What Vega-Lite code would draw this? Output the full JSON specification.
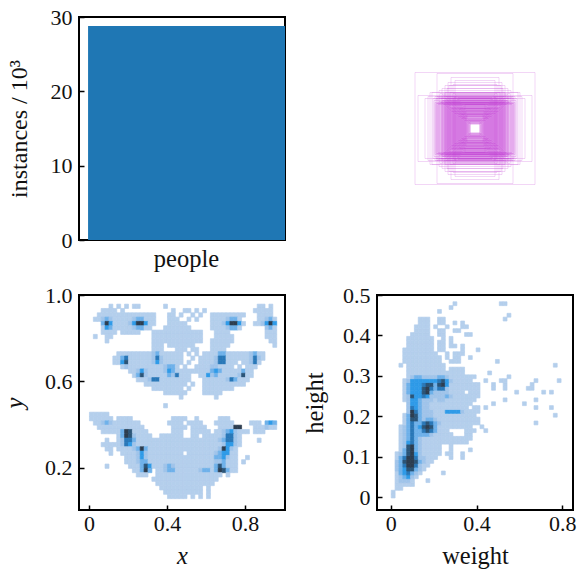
{"$schema":"https://vega.github.io/schema/vega-lite/v6.json","padding":{"left":1,"top":5,"right":0,"bottom":0},"bounds":"flush","columns":2,"spacing":{"column":92,"row":55},
"config":{"view":{"stroke":"#000","strokeWidth":2},"font":"Liberation Serif","axis":{"domain":false,"grid":false,"tickSize":-5,"tickWidth":1.5,"tickColor":"#000","labelFont":"Liberation Serif","titleFont":"Liberation Serif","labelFontSize":22,"titleFontSize":24.5,"labelColor":"#111","titleColor":"#111","titleFontWeight":"normal","labelPadding":12,"labelAngle":0}},
"concat":[
{"width":206,"height":223,"data":{"values":[{"name":"people","n":28.8}]},"mark":{"type":"bar","color":"#1f77b4","clip":true},
"encoding":{"x":{"field":"name","type":"nominal","title":null,"scale":{"paddingInner":0,"paddingOuter":0.023,"align":1},"axis":{"labelFontSize":24.5}},"y":{"field":"n","type":"quantitative","title":"instances / 10³","scale":{"domain":[0,30]},"axis":{"values":[0,10,20,30],"titlePadding":19,"titleFontSize":24}}}},
{"width":196,"height":223,"view":{"stroke":null},"data":{"values":[
{"x":-5,"x2":5,"y":-4,"y2":4},{"x":-5,"x2":5,"y":-5,"y2":5},{"x":-5,"x2":5,"y":-7,"y2":7},{"x":-6,"x2":6,"y":-5,"y2":5},{"x":-6,"x2":6,"y":-6,"y2":6},{"x":-6,"x2":6,"y":-8,"y2":8},{"x":-7,"x2":7,"y":-5,"y2":5},{"x":-7,"x2":7,"y":-7,"y2":7},{"x":-7,"x2":7,"y":-6,"y2":6},{"x":-7,"x2":7,"y":-9,"y2":9},
{"x":-8,"x2":8,"y":-6,"y2":6},{"x":-8,"x2":8,"y":-8,"y2":8},{"x":-8,"x2":8,"y":-7,"y2":7},{"x":-8,"x2":8,"y":-14,"y2":14},{"x":-9,"x2":9,"y":-7,"y2":7},{"x":-9,"x2":9,"y":-9,"y2":9},{"x":-9,"x2":9,"y":-8,"y2":8},{"x":-9,"x2":9,"y":-12,"y2":12},{"x":-9,"x2":9,"y":-18,"y2":18},
{"x":-10,"x2":10,"y":-8,"y2":8},{"x":-10,"x2":10,"y":-10,"y2":10},{"x":-10,"x2":10,"y":-9,"y2":9},{"x":-10,"x2":10,"y":-13,"y2":13},{"x":-10,"x2":10,"y":-24,"y2":24},{"x":-11,"x2":11,"y":-8,"y2":8},{"x":-11,"x2":11,"y":-10,"y2":10},{"x":-11,"x2":11,"y":-12,"y2":12},{"x":-11,"x2":11,"y":-15,"y2":15},{"x":-11,"x2":11,"y":-20,"y2":20},
{"x":-12,"x2":12,"y":-9,"y2":9},{"x":-12,"x2":12,"y":-11,"y2":11},{"x":-12,"x2":12,"y":-13,"y2":13},{"x":-12,"x2":12,"y":-16,"y2":16},{"x":-12,"x2":12,"y":-22,"y2":22},{"x":-13,"x2":13,"y":-10,"y2":10},{"x":-13,"x2":13,"y":-11,"y2":11},{"x":-13,"x2":13,"y":-14,"y2":14},{"x":-13,"x2":13,"y":-17,"y2":17},{"x":-13,"x2":13,"y":-24,"y2":24},
{"x":-14,"x2":14,"y":-10,"y2":10},{"x":-14,"x2":14,"y":-12,"y2":12},{"x":-14,"x2":14,"y":-14,"y2":14},{"x":-14,"x2":14,"y":-18,"y2":18},{"x":-14,"x2":14,"y":-26,"y2":26},{"x":-15,"x2":15,"y":-11,"y2":11},{"x":-15,"x2":15,"y":-13,"y2":13},{"x":-15,"x2":15,"y":-15,"y2":15},{"x":-15,"x2":15,"y":-20,"y2":20},{"x":-15,"x2":15,"y":-28,"y2":28},
{"x":-16,"x2":16,"y":-12,"y2":12},{"x":-16,"x2":16,"y":-14,"y2":14},{"x":-16,"x2":16,"y":-16,"y2":16},{"x":-16,"x2":16,"y":-19,"y2":19},{"x":-16,"x2":16,"y":-30,"y2":30},{"x":-17,"x2":17,"y":-12,"y2":12},{"x":-17,"x2":17,"y":-14,"y2":14},{"x":-17,"x2":17,"y":-17,"y2":17},{"x":-17,"x2":17,"y":-20,"y2":20},{"x":-17,"x2":17,"y":-31,"y2":31},
{"x":-18,"x2":18,"y":-13,"y2":13},{"x":-18,"x2":18,"y":-15,"y2":15},{"x":-18,"x2":18,"y":-18,"y2":18},{"x":-18,"x2":18,"y":-21,"y2":21},{"x":-18,"x2":18,"y":-29,"y2":29},{"x":-19,"x2":19,"y":-14,"y2":14},{"x":-19,"x2":19,"y":-16,"y2":16},{"x":-19,"x2":19,"y":-19,"y2":19},{"x":-19,"x2":19,"y":-22,"y2":22},{"x":-19,"x2":19,"y":-33,"y2":33},
{"x":-20,"x2":20,"y":-15,"y2":15},{"x":-20,"x2":20,"y":-17,"y2":17},{"x":-20,"x2":20,"y":-20,"y2":20},{"x":-20,"x2":20,"y":-23,"y2":23},{"x":-20,"x2":20,"y":-34,"y2":34},{"x":-21,"x2":21,"y":-15,"y2":15},{"x":-21,"x2":21,"y":-18,"y2":18},{"x":-21,"x2":21,"y":-21,"y2":21},{"x":-21,"x2":21,"y":-24,"y2":24},{"x":-21,"x2":21,"y":-31,"y2":31},
{"x":-22,"x2":22,"y":-16,"y2":16},{"x":-22,"x2":22,"y":-19,"y2":19},{"x":-22,"x2":22,"y":-22,"y2":22},{"x":-22,"x2":22,"y":-25,"y2":25},{"x":-22,"x2":22,"y":-35,"y2":35},{"x":-23,"x2":23,"y":-17,"y2":17},{"x":-23,"x2":23,"y":-20,"y2":20},{"x":-23,"x2":23,"y":-23,"y2":23},{"x":-23,"x2":23,"y":-26,"y2":26},
{"x":-24,"x2":24,"y":-17,"y2":17},{"x":-24,"x2":24,"y":-20,"y2":20},{"x":-24,"x2":24,"y":-24,"y2":24},{"x":-24,"x2":24,"y":-27,"y2":27},{"x":-25,"x2":25,"y":-18,"y2":18},{"x":-25,"x2":25,"y":-21,"y2":21},{"x":-25,"x2":25,"y":-25,"y2":25},{"x":-25,"x2":25,"y":-28,"y2":28},{"x":-25,"x2":25,"y":-36,"y2":36},
{"x":-26,"x2":26,"y":-19,"y2":19},{"x":-26,"x2":26,"y":-23,"y2":23},{"x":-26,"x2":26,"y":-26,"y2":26},{"x":-26,"x2":26,"y":-29,"y2":29},{"x":-27,"x2":27,"y":-20,"y2":20},{"x":-27,"x2":27,"y":-24,"y2":24},{"x":-27,"x2":27,"y":-27,"y2":27},{"x":-27,"x2":27,"y":-30,"y2":30},{"x":-28,"x2":28,"y":-21,"y2":21},{"x":-28,"x2":28,"y":-25,"y2":25},{"x":-28,"x2":28,"y":-28,"y2":28},{"x":-28,"x2":28,"y":-31,"y2":31},
{"x":-29,"x2":29,"y":-22,"y2":22},{"x":-29,"x2":29,"y":-26,"y2":26},{"x":-29,"x2":29,"y":-29,"y2":29},{"x":-29,"x2":29,"y":-32,"y2":32},{"x":-30,"x2":30,"y":-23,"y2":23},{"x":-30,"x2":30,"y":-26,"y2":26},{"x":-30,"x2":30,"y":-30,"y2":30},{"x":-30,"x2":30,"y":-36,"y2":36},{"x":-31,"x2":31,"y":-24,"y2":24},{"x":-31,"x2":31,"y":-27,"y2":27},{"x":-31,"x2":31,"y":-32,"y2":32},
{"x":-32,"x2":32,"y":-24,"y2":24},{"x":-32,"x2":32,"y":-28,"y2":28},{"x":-32,"x2":32,"y":-33,"y2":33},{"x":-33,"x2":33,"y":-25,"y2":25},{"x":-33,"x2":33,"y":-28,"y2":28},{"x":-33,"x2":33,"y":-34,"y2":34},{"x":-34,"x2":34,"y":-26,"y2":26},{"x":-34,"x2":34,"y":-30,"y2":30},{"x":-35,"x2":35,"y":-26,"y2":26},{"x":-35,"x2":35,"y":-35,"y2":35},
{"x":-36,"x2":36,"y":-27,"y2":27},{"x":-36,"x2":36,"y":-30,"y2":30},{"x":-37,"x2":37,"y":-24,"y2":24},{"x":-37,"x2":37,"y":-31,"y2":31},{"x":-38,"x2":38,"y":-25,"y2":25},{"x":-38,"x2":38,"y":-32,"y2":32},{"x":-39,"x2":39,"y":-25,"y2":25},{"x":-39,"x2":39,"y":-30,"y2":30},{"x":-40,"x2":40,"y":-26,"y2":26},{"x":-40,"x2":40,"y":-32,"y2":32},{"x":-41,"x2":41,"y":-28,"y2":28},{"x":-42,"x2":42,"y":-30,"y2":30},{"x":-43,"x2":43,"y":-36,"y2":36},
{"x":-24,"x2":24,"y":-51,"y2":51},{"x":-27,"x2":27,"y":-46,"y2":46},{"x":-30,"x2":30,"y":-43,"y2":43},{"x":-33,"x2":33,"y":-40,"y2":40},{"x":-20,"x2":20,"y":-48,"y2":48},{"x":-38,"x2":38,"y":-55,"y2":55},{"x":-60,"x2":60,"y":-56,"y2":56},{"x":-57,"x2":57,"y":-33,"y2":33},{"x":-45,"x2":45,"y":-36,"y2":36},{"x":-47,"x2":47,"y":-32,"y2":32},{"x":-50,"x2":50,"y":-30,"y2":30},{"x":-28,"x2":28,"y":-40,"y2":40},{"x":-22,"x2":22,"y":-44,"y2":44},{"x":-26,"x2":26,"y":-43,"y2":43},{"x":-36,"x2":36,"y":-38,"y2":38}
]},"mark":{"type":"rect","fill":null,"stroke":"#c030d0","strokeOpacity":0.2,"strokeWidth":1},
"encoding":{"x":{"field":"x","type":"quantitative","axis":null,"scale":{"domain":[-98,98]}},"x2":{"field":"x2"},"y":{"field":"y","type":"quantitative","axis":null,"scale":{"domain":[-111.5,111.5]}},"y2":{"field":"y2"}}},
{"width":206,"height":215,"data":{"values":[
{"x":0.11,"y":0.95,"c":1},{"x":0.15,"y":0.95,"c":1},{"x":0.19,"y":0.95,"c":1},{"x":0.23,"y":0.95,"c":1},{"x":0.25,"y":0.95,"c":1},{"x":0.39,"y":0.95,"c":1},{"x":0.87,"y":0.95,"c":1},{"x":0.89,"y":0.95,"c":1},{"x":0.93,"y":0.95,"c":1},
{"x":0.07,"y":0.93,"c":1},{"x":0.09,"y":0.93,"c":1},{"x":0.11,"y":0.93,"c":1},{"x":0.13,"y":0.93,"c":1},{"x":0.17,"y":0.93,"c":1},{"x":0.43,"y":0.93,"c":1},{"x":0.49,"y":0.93,"c":1},{"x":0.51,"y":0.93,"c":1},{"x":0.55,"y":0.93,"c":1},{"x":0.59,"y":0.93,"c":1},{"x":0.85,"y":0.93,"c":1},{"x":0.87,"y":0.93,"c":1},{"x":0.89,"y":0.93,"c":1},{"x":0.91,"y":0.93,"c":1},{"x":0.93,"y":0.93,"c":1},
{"x":0.05,"y":0.91,"c":1},{"x":0.07,"y":0.91,"c":1},{"x":0.09,"y":0.91,"c":1},{"x":0.11,"y":0.91,"c":1},{"x":0.13,"y":0.91,"c":1},{"x":0.15,"y":0.91,"c":1},{"x":0.17,"y":0.91,"c":1},{"x":0.19,"y":0.91,"c":1},{"x":0.21,"y":0.91,"c":1},{"x":0.23,"y":0.91,"c":1},{"x":0.25,"y":0.91,"c":1},{"x":0.27,"y":0.91,"c":1},{"x":0.29,"y":0.91,"c":1},{"x":0.31,"y":0.91,"c":1},{"x":0.33,"y":0.91,"c":1},{"x":0.41,"y":0.91,"c":1},{"x":0.43,"y":0.91,"c":1},{"x":0.47,"y":0.91,"c":1},{"x":0.53,"y":0.91,"c":1},{"x":0.57,"y":0.91,"c":1},{"x":0.63,"y":0.91,"c":1},{"x":0.65,"y":0.91,"c":1},{"x":0.67,"y":0.91,"c":1},{"x":0.69,"y":0.91,"c":1},{"x":0.71,"y":0.91,"c":1},{"x":0.73,"y":0.91,"c":1},{"x":0.75,"y":0.91,"c":1},{"x":0.77,"y":0.91,"c":1},{"x":0.79,"y":0.91,"c":1},{"x":0.87,"y":0.91,"c":1},{"x":0.89,"y":0.91,"c":1},{"x":0.91,"y":0.91,"c":1},{"x":0.93,"y":0.91,"c":1},
{"x":0.03,"y":0.89,"c":1},{"x":0.05,"y":0.89,"c":1},{"x":0.07,"y":0.89,"c":2},{"x":0.09,"y":0.89,"c":3},{"x":0.11,"y":0.89,"c":2},{"x":0.13,"y":0.89,"c":1},{"x":0.15,"y":0.89,"c":1},{"x":0.17,"y":0.89,"c":1},{"x":0.19,"y":0.89,"c":1},{"x":0.21,"y":0.89,"c":1},{"x":0.23,"y":0.89,"c":2},{"x":0.25,"y":0.89,"c":3},{"x":0.27,"y":0.89,"c":3},{"x":0.29,"y":0.89,"c":1},{"x":0.31,"y":0.89,"c":1},{"x":0.33,"y":0.89,"c":1},{"x":0.41,"y":0.89,"c":1},{"x":0.43,"y":0.89,"c":1},{"x":0.45,"y":0.89,"c":1},{"x":0.51,"y":0.89,"c":1},{"x":0.55,"y":0.89,"c":1},{"x":0.63,"y":0.89,"c":1},{"x":0.65,"y":0.89,"c":1},{"x":0.67,"y":0.89,"c":1},{"x":0.69,"y":0.89,"c":1},{"x":0.71,"y":0.89,"c":2},{"x":0.73,"y":0.89,"c":3},{"x":0.75,"y":0.89,"c":3},{"x":0.77,"y":0.89,"c":1},{"x":0.87,"y":0.89,"c":1},{"x":0.89,"y":0.89,"c":1},{"x":0.91,"y":0.89,"c":2},{"x":0.93,"y":0.89,"c":3},{"x":0.95,"y":0.89,"c":1},
{"x":0.07,"y":0.87,"c":3},{"x":0.09,"y":0.87,"c":7},{"x":0.11,"y":0.87,"c":4},{"x":0.13,"y":0.87,"c":1},{"x":0.15,"y":0.87,"c":1},{"x":0.17,"y":0.87,"c":1},{"x":0.19,"y":0.87,"c":1},{"x":0.21,"y":0.87,"c":2},{"x":0.23,"y":0.87,"c":4},{"x":0.25,"y":0.87,"c":7},{"x":0.27,"y":0.87,"c":7},{"x":0.29,"y":0.87,"c":4},{"x":0.31,"y":0.87,"c":1},{"x":0.33,"y":0.87,"c":1},{"x":0.41,"y":0.87,"c":1},{"x":0.43,"y":0.87,"c":1},{"x":0.45,"y":0.87,"c":1},{"x":0.47,"y":0.87,"c":1},{"x":0.49,"y":0.87,"c":1},{"x":0.63,"y":0.87,"c":1},{"x":0.65,"y":0.87,"c":1},{"x":0.67,"y":0.87,"c":1},{"x":0.69,"y":0.87,"c":2},{"x":0.71,"y":0.87,"c":4},{"x":0.73,"y":0.87,"c":7},{"x":0.75,"y":0.87,"c":7},{"x":0.77,"y":0.87,"c":4},{"x":0.79,"y":0.87,"c":1},{"x":0.85,"y":0.87,"c":1},{"x":0.87,"y":0.87,"c":1},{"x":0.89,"y":0.87,"c":2},{"x":0.91,"y":0.87,"c":4},{"x":0.93,"y":0.87,"c":7},{"x":0.95,"y":0.87,"c":4},
{"x":0.07,"y":0.85,"c":1},{"x":0.09,"y":0.85,"c":4},{"x":0.11,"y":0.85,"c":3},{"x":0.13,"y":0.85,"c":1},{"x":0.15,"y":0.85,"c":1},{"x":0.17,"y":0.85,"c":1},{"x":0.19,"y":0.85,"c":1},{"x":0.21,"y":0.85,"c":1},{"x":0.23,"y":0.85,"c":2},{"x":0.25,"y":0.85,"c":3},{"x":0.27,"y":0.85,"c":3},{"x":0.29,"y":0.85,"c":1},{"x":0.31,"y":0.85,"c":1},{"x":0.39,"y":0.85,"c":1},{"x":0.41,"y":0.85,"c":1},{"x":0.43,"y":0.85,"c":1},{"x":0.45,"y":0.85,"c":1},{"x":0.47,"y":0.85,"c":1},{"x":0.49,"y":0.85,"c":1},{"x":0.51,"y":0.85,"c":1},{"x":0.63,"y":0.85,"c":1},{"x":0.65,"y":0.85,"c":1},{"x":0.67,"y":0.85,"c":1},{"x":0.69,"y":0.85,"c":1},{"x":0.71,"y":0.85,"c":2},{"x":0.73,"y":0.85,"c":3},{"x":0.75,"y":0.85,"c":3},{"x":0.77,"y":0.85,"c":1},{"x":0.91,"y":0.85,"c":2},{"x":0.93,"y":0.85,"c":3},{"x":0.95,"y":0.85,"c":1},
{"x":0.07,"y":0.83,"c":1},{"x":0.09,"y":0.83,"c":1},{"x":0.11,"y":0.83,"c":1},{"x":0.13,"y":0.83,"c":1},{"x":0.17,"y":0.83,"c":1},{"x":0.19,"y":0.83,"c":1},{"x":0.21,"y":0.83,"c":1},{"x":0.23,"y":0.83,"c":1},{"x":0.25,"y":0.83,"c":1},{"x":0.33,"y":0.83,"c":1},{"x":0.35,"y":0.83,"c":1},{"x":0.37,"y":0.83,"c":1},{"x":0.39,"y":0.83,"c":1},{"x":0.41,"y":0.83,"c":1},{"x":0.43,"y":0.83,"c":1},{"x":0.45,"y":0.83,"c":1},{"x":0.47,"y":0.83,"c":1},{"x":0.49,"y":0.83,"c":1},{"x":0.51,"y":0.83,"c":1},{"x":0.53,"y":0.83,"c":1},{"x":0.55,"y":0.83,"c":1},{"x":0.57,"y":0.83,"c":1},{"x":0.65,"y":0.83,"c":1},{"x":0.67,"y":0.83,"c":1},{"x":0.69,"y":0.83,"c":1},{"x":0.71,"y":0.83,"c":1},{"x":0.91,"y":0.83,"c":1},{"x":0.93,"y":0.83,"c":1},{"x":0.95,"y":0.83,"c":1},
{"x":0.03,"y":0.81,"c":1},{"x":0.09,"y":0.81,"c":1},{"x":0.11,"y":0.81,"c":1},{"x":0.33,"y":0.81,"c":1},{"x":0.35,"y":0.81,"c":1},{"x":0.37,"y":0.81,"c":1},{"x":0.39,"y":0.81,"c":1},{"x":0.41,"y":0.81,"c":1},{"x":0.43,"y":0.81,"c":1},{"x":0.45,"y":0.81,"c":1},{"x":0.47,"y":0.81,"c":1},{"x":0.49,"y":0.81,"c":1},{"x":0.51,"y":0.81,"c":1},{"x":0.53,"y":0.81,"c":1},{"x":0.55,"y":0.81,"c":1},{"x":0.57,"y":0.81,"c":1},{"x":0.65,"y":0.81,"c":1},{"x":0.67,"y":0.81,"c":1},{"x":0.69,"y":0.81,"c":1},{"x":0.71,"y":0.81,"c":1},{"x":0.73,"y":0.81,"c":1},{"x":0.91,"y":0.81,"c":1},{"x":0.93,"y":0.81,"c":1},{"x":0.95,"y":0.81,"c":1},
{"x":0.09,"y":0.79,"c":1},{"x":0.33,"y":0.79,"c":1},{"x":0.35,"y":0.79,"c":1},{"x":0.37,"y":0.79,"c":1},{"x":0.39,"y":0.79,"c":1},{"x":0.41,"y":0.79,"c":1},{"x":0.43,"y":0.79,"c":1},{"x":0.45,"y":0.79,"c":1},{"x":0.47,"y":0.79,"c":1},{"x":0.49,"y":0.79,"c":1},{"x":0.51,"y":0.79,"c":1},{"x":0.53,"y":0.79,"c":1},{"x":0.55,"y":0.79,"c":1},{"x":0.57,"y":0.79,"c":1},{"x":0.63,"y":0.79,"c":1},{"x":0.65,"y":0.79,"c":1},{"x":0.67,"y":0.79,"c":1},{"x":0.69,"y":0.79,"c":1},{"x":0.71,"y":0.79,"c":1},{"x":0.73,"y":0.79,"c":1},{"x":0.93,"y":0.79,"c":1},{"x":0.95,"y":0.79,"c":1},
{"x":0.33,"y":0.77,"c":1},{"x":0.35,"y":0.77,"c":1},{"x":0.37,"y":0.77,"c":1},{"x":0.41,"y":0.77,"c":1},{"x":0.43,"y":0.77,"c":1},{"x":0.45,"y":0.77,"c":1},{"x":0.47,"y":0.77,"c":1},{"x":0.49,"y":0.77,"c":1},{"x":0.51,"y":0.77,"c":1},{"x":0.53,"y":0.77,"c":1},{"x":0.63,"y":0.77,"c":1},{"x":0.65,"y":0.77,"c":1},{"x":0.67,"y":0.77,"c":1},{"x":0.69,"y":0.77,"c":1},{"x":0.71,"y":0.77,"c":1},{"x":0.95,"y":0.77,"c":1},
{"x":0.33,"y":0.75,"c":1},{"x":0.35,"y":0.75,"c":1},{"x":0.37,"y":0.75,"c":1},{"x":0.45,"y":0.75,"c":1},{"x":0.47,"y":0.75,"c":1},{"x":0.49,"y":0.75,"c":1},{"x":0.53,"y":0.75,"c":1},{"x":0.55,"y":0.75,"c":1},{"x":0.63,"y":0.75,"c":1},{"x":0.65,"y":0.75,"c":1},{"x":0.67,"y":0.75,"c":1},{"x":0.69,"y":0.75,"c":1},
{"x":0.15,"y":0.73,"c":1},{"x":0.17,"y":0.73,"c":1},{"x":0.19,"y":0.73,"c":1},{"x":0.21,"y":0.73,"c":1},{"x":0.23,"y":0.73,"c":1},{"x":0.25,"y":0.73,"c":1},{"x":0.27,"y":0.73,"c":1},{"x":0.29,"y":0.73,"c":1},{"x":0.31,"y":0.73,"c":1},{"x":0.33,"y":0.73,"c":2},{"x":0.35,"y":0.73,"c":3},{"x":0.37,"y":0.73,"c":1},{"x":0.39,"y":0.73,"c":1},{"x":0.41,"y":0.73,"c":1},{"x":0.43,"y":0.73,"c":1},{"x":0.45,"y":0.73,"c":1},{"x":0.47,"y":0.73,"c":1},{"x":0.51,"y":0.73,"c":1},{"x":0.55,"y":0.73,"c":1},{"x":0.59,"y":0.73,"c":1},{"x":0.61,"y":0.73,"c":1},{"x":0.63,"y":0.73,"c":1},{"x":0.65,"y":0.73,"c":1},{"x":0.67,"y":0.73,"c":3},{"x":0.69,"y":0.73,"c":3},{"x":0.71,"y":0.73,"c":1},{"x":0.73,"y":0.73,"c":1},{"x":0.75,"y":0.73,"c":1},{"x":0.77,"y":0.73,"c":1},{"x":0.79,"y":0.73,"c":1},{"x":0.81,"y":0.73,"c":1},{"x":0.83,"y":0.73,"c":2},{"x":0.85,"y":0.73,"c":3},{"x":0.87,"y":0.73,"c":1},{"x":0.89,"y":0.73,"c":1},
{"x":0.13,"y":0.71,"c":1},{"x":0.15,"y":0.71,"c":1},{"x":0.17,"y":0.71,"c":3},{"x":0.19,"y":0.71,"c":5},{"x":0.21,"y":0.71,"c":1},{"x":0.23,"y":0.71,"c":1},{"x":0.25,"y":0.71,"c":1},{"x":0.27,"y":0.71,"c":1},{"x":0.29,"y":0.71,"c":1},{"x":0.31,"y":0.71,"c":1},{"x":0.33,"y":0.71,"c":2},{"x":0.35,"y":0.71,"c":5},{"x":0.37,"y":0.71,"c":2},{"x":0.39,"y":0.71,"c":1},{"x":0.41,"y":0.71,"c":1},{"x":0.43,"y":0.71,"c":1},{"x":0.45,"y":0.71,"c":1},{"x":0.47,"y":0.71,"c":1},{"x":0.53,"y":0.71,"c":1},{"x":0.57,"y":0.71,"c":1},{"x":0.59,"y":0.71,"c":1},{"x":0.61,"y":0.71,"c":1},{"x":0.63,"y":0.71,"c":1},{"x":0.65,"y":0.71,"c":2},{"x":0.67,"y":0.71,"c":5},{"x":0.69,"y":0.71,"c":5},{"x":0.71,"y":0.71,"c":1},{"x":0.73,"y":0.71,"c":1},{"x":0.75,"y":0.71,"c":1},{"x":0.77,"y":0.71,"c":1},{"x":0.79,"y":0.71,"c":1},{"x":0.81,"y":0.71,"c":1},{"x":0.83,"y":0.71,"c":2},{"x":0.85,"y":0.71,"c":5},{"x":0.87,"y":0.71,"c":2},{"x":0.89,"y":0.71,"c":1},
{"x":0.13,"y":0.69,"c":1},{"x":0.15,"y":0.69,"c":1},{"x":0.17,"y":0.69,"c":4},{"x":0.19,"y":0.69,"c":6},{"x":0.21,"y":0.69,"c":1},{"x":0.23,"y":0.69,"c":1},{"x":0.25,"y":0.69,"c":1},{"x":0.27,"y":0.69,"c":1},{"x":0.29,"y":0.69,"c":1},{"x":0.31,"y":0.69,"c":1},{"x":0.33,"y":0.69,"c":2},{"x":0.35,"y":0.69,"c":4},{"x":0.37,"y":0.69,"c":2},{"x":0.39,"y":0.69,"c":1},{"x":0.41,"y":0.69,"c":1},{"x":0.43,"y":0.69,"c":1},{"x":0.45,"y":0.69,"c":1},{"x":0.47,"y":0.69,"c":1},{"x":0.51,"y":0.69,"c":1},{"x":0.57,"y":0.69,"c":1},{"x":0.59,"y":0.69,"c":1},{"x":0.61,"y":0.69,"c":1},{"x":0.63,"y":0.69,"c":1},{"x":0.65,"y":0.69,"c":2},{"x":0.67,"y":0.69,"c":5},{"x":0.69,"y":0.69,"c":5},{"x":0.71,"y":0.69,"c":1},{"x":0.73,"y":0.69,"c":1},{"x":0.75,"y":0.69,"c":1},{"x":0.79,"y":0.69,"c":1},{"x":0.81,"y":0.69,"c":1},{"x":0.83,"y":0.69,"c":2},{"x":0.85,"y":0.69,"c":5},{"x":0.87,"y":0.69,"c":1},
{"x":0.17,"y":0.67,"c":1},{"x":0.19,"y":0.67,"c":2},{"x":0.21,"y":0.67,"c":1},{"x":0.23,"y":0.67,"c":1},{"x":0.25,"y":0.67,"c":1},{"x":0.27,"y":0.67,"c":1},{"x":0.29,"y":0.67,"c":1},{"x":0.31,"y":0.67,"c":1},{"x":0.33,"y":0.67,"c":1},{"x":0.35,"y":0.67,"c":1},{"x":0.37,"y":0.67,"c":1},{"x":0.39,"y":0.67,"c":2},{"x":0.41,"y":0.67,"c":3},{"x":0.43,"y":0.67,"c":3},{"x":0.45,"y":0.67,"c":1},{"x":0.49,"y":0.67,"c":1},{"x":0.55,"y":0.67,"c":1},{"x":0.57,"y":0.67,"c":1},{"x":0.59,"y":0.67,"c":1},{"x":0.61,"y":0.67,"c":1},{"x":0.63,"y":0.67,"c":2},{"x":0.65,"y":0.67,"c":2},{"x":0.67,"y":0.67,"c":1},{"x":0.69,"y":0.67,"c":1},{"x":0.71,"y":0.67,"c":1},{"x":0.73,"y":0.67,"c":1},{"x":0.77,"y":0.67,"c":1},{"x":0.81,"y":0.67,"c":1},{"x":0.83,"y":0.67,"c":1},{"x":0.85,"y":0.67,"c":1},
{"x":0.21,"y":0.65,"c":1},{"x":0.23,"y":0.65,"c":1},{"x":0.25,"y":0.65,"c":2},{"x":0.27,"y":0.65,"c":4},{"x":0.29,"y":0.65,"c":2},{"x":0.31,"y":0.65,"c":1},{"x":0.33,"y":0.65,"c":1},{"x":0.35,"y":0.65,"c":1},{"x":0.37,"y":0.65,"c":1},{"x":0.39,"y":0.65,"c":2},{"x":0.41,"y":0.65,"c":4},{"x":0.43,"y":0.65,"c":3},{"x":0.45,"y":0.65,"c":1},{"x":0.47,"y":0.65,"c":1},{"x":0.49,"y":0.65,"c":1},{"x":0.51,"y":0.65,"c":1},{"x":0.53,"y":0.65,"c":1},{"x":0.55,"y":0.65,"c":1},{"x":0.57,"y":0.65,"c":1},{"x":0.59,"y":0.65,"c":1},{"x":0.61,"y":0.65,"c":1},{"x":0.63,"y":0.65,"c":3},{"x":0.65,"y":0.65,"c":4},{"x":0.67,"y":0.65,"c":3},{"x":0.69,"y":0.65,"c":1},{"x":0.71,"y":0.65,"c":1},{"x":0.73,"y":0.65,"c":1},{"x":0.75,"y":0.65,"c":1},{"x":0.77,"y":0.65,"c":1},{"x":0.79,"y":0.65,"c":3},{"x":0.81,"y":0.65,"c":1},{"x":0.83,"y":0.65,"c":1},
{"x":0.23,"y":0.63,"c":1},{"x":0.25,"y":0.63,"c":3},{"x":0.27,"y":0.63,"c":6},{"x":0.29,"y":0.63,"c":2},{"x":0.31,"y":0.63,"c":1},{"x":0.33,"y":0.63,"c":1},{"x":0.35,"y":0.63,"c":1},{"x":0.37,"y":0.63,"c":1},{"x":0.39,"y":0.63,"c":1},{"x":0.41,"y":0.63,"c":3},{"x":0.43,"y":0.63,"c":2},{"x":0.45,"y":0.63,"c":5},{"x":0.47,"y":0.63,"c":1},{"x":0.49,"y":0.63,"c":1},{"x":0.51,"y":0.63,"c":1},{"x":0.57,"y":0.63,"c":1},{"x":0.59,"y":0.63,"c":1},{"x":0.61,"y":0.63,"c":4},{"x":0.63,"y":0.63,"c":2},{"x":0.65,"y":0.63,"c":3},{"x":0.67,"y":0.63,"c":1},{"x":0.69,"y":0.63,"c":1},{"x":0.71,"y":0.63,"c":1},{"x":0.73,"y":0.63,"c":1},{"x":0.75,"y":0.63,"c":1},{"x":0.77,"y":0.63,"c":2},{"x":0.79,"y":0.63,"c":6},{"x":0.81,"y":0.63,"c":1},{"x":0.83,"y":0.63,"c":1},
{"x":0.25,"y":0.61,"c":1},{"x":0.27,"y":0.61,"c":1},{"x":0.29,"y":0.61,"c":1},{"x":0.31,"y":0.61,"c":2},{"x":0.33,"y":0.61,"c":5},{"x":0.35,"y":0.61,"c":5},{"x":0.37,"y":0.61,"c":1},{"x":0.39,"y":0.61,"c":1},{"x":0.41,"y":0.61,"c":1},{"x":0.43,"y":0.61,"c":1},{"x":0.45,"y":0.61,"c":1},{"x":0.47,"y":0.61,"c":1},{"x":0.49,"y":0.61,"c":1},{"x":0.51,"y":0.61,"c":1},{"x":0.59,"y":0.61,"c":1},{"x":0.61,"y":0.61,"c":1},{"x":0.63,"y":0.61,"c":1},{"x":0.65,"y":0.61,"c":1},{"x":0.67,"y":0.61,"c":1},{"x":0.69,"y":0.61,"c":1},{"x":0.71,"y":0.61,"c":2},{"x":0.73,"y":0.61,"c":5},{"x":0.75,"y":0.61,"c":3},{"x":0.77,"y":0.61,"c":1},{"x":0.79,"y":0.61,"c":1},{"x":0.81,"y":0.61,"c":1},
{"x":0.29,"y":0.59,"c":1},{"x":0.31,"y":0.59,"c":1},{"x":0.33,"y":0.59,"c":1},{"x":0.35,"y":0.59,"c":1},{"x":0.37,"y":0.59,"c":1},{"x":0.39,"y":0.59,"c":1},{"x":0.41,"y":0.59,"c":1},{"x":0.43,"y":0.59,"c":1},{"x":0.45,"y":0.59,"c":1},{"x":0.47,"y":0.59,"c":1},{"x":0.49,"y":0.59,"c":1},{"x":0.53,"y":0.59,"c":1},{"x":0.59,"y":0.59,"c":1},{"x":0.61,"y":0.59,"c":1},{"x":0.63,"y":0.59,"c":1},{"x":0.65,"y":0.59,"c":1},{"x":0.67,"y":0.59,"c":1},{"x":0.69,"y":0.59,"c":1},{"x":0.71,"y":0.59,"c":1},{"x":0.73,"y":0.59,"c":1},{"x":0.75,"y":0.59,"c":1},{"x":0.77,"y":0.59,"c":1},{"x":0.79,"y":0.59,"c":1},
{"x":0.33,"y":0.57,"c":1},{"x":0.35,"y":0.57,"c":1},{"x":0.37,"y":0.57,"c":1},{"x":0.39,"y":0.57,"c":1},{"x":0.41,"y":0.57,"c":1},{"x":0.43,"y":0.57,"c":1},{"x":0.45,"y":0.57,"c":1},{"x":0.47,"y":0.57,"c":1},{"x":0.51,"y":0.57,"c":1},{"x":0.59,"y":0.57,"c":1},{"x":0.61,"y":0.57,"c":1},{"x":0.63,"y":0.57,"c":1},{"x":0.65,"y":0.57,"c":1},{"x":0.67,"y":0.57,"c":1},{"x":0.69,"y":0.57,"c":1},{"x":0.71,"y":0.57,"c":1},{"x":0.73,"y":0.57,"c":1},
{"x":0.39,"y":0.55,"c":1},{"x":0.41,"y":0.55,"c":1},{"x":0.43,"y":0.55,"c":1},{"x":0.45,"y":0.55,"c":1},{"x":0.47,"y":0.55,"c":1},{"x":0.49,"y":0.55,"c":1},{"x":0.59,"y":0.55,"c":1},{"x":0.61,"y":0.55,"c":1},{"x":0.63,"y":0.55,"c":1},{"x":0.65,"y":0.55,"c":1},{"x":0.67,"y":0.55,"c":1},{"x":0.47,"y":0.53,"c":1},{"x":0.65,"y":0.53,"c":1},{"x":0.39,"y":0.49,"c":1},
{"x":0.01,"y":0.45,"c":1},{"x":0.03,"y":0.45,"c":1},{"x":0.05,"y":0.45,"c":1},{"x":0.07,"y":0.45,"c":1},{"x":0.09,"y":0.45,"c":1},
{"x":0.01,"y":0.43,"c":1},{"x":0.03,"y":0.43,"c":1},{"x":0.05,"y":0.43,"c":1},{"x":0.07,"y":0.43,"c":1},{"x":0.09,"y":0.43,"c":1},{"x":0.11,"y":0.43,"c":1},{"x":0.15,"y":0.43,"c":1},{"x":0.17,"y":0.43,"c":1},{"x":0.19,"y":0.43,"c":1},{"x":0.21,"y":0.43,"c":1},{"x":0.43,"y":0.43,"c":1},{"x":0.45,"y":0.43,"c":1},{"x":0.47,"y":0.43,"c":1},{"x":0.49,"y":0.43,"c":1},{"x":0.55,"y":0.43,"c":1},{"x":0.67,"y":0.43,"c":1},{"x":0.69,"y":0.43,"c":1},{"x":0.71,"y":0.43,"c":1},
{"x":0.03,"y":0.41,"c":1},{"x":0.05,"y":0.41,"c":1},{"x":0.07,"y":0.41,"c":2},{"x":0.09,"y":0.41,"c":3},{"x":0.11,"y":0.41,"c":2},{"x":0.13,"y":0.41,"c":1},{"x":0.15,"y":0.41,"c":1},{"x":0.17,"y":0.41,"c":1},{"x":0.19,"y":0.41,"c":1},{"x":0.21,"y":0.41,"c":1},{"x":0.23,"y":0.41,"c":1},{"x":0.25,"y":0.41,"c":1},{"x":0.41,"y":0.41,"c":1},{"x":0.43,"y":0.41,"c":1},{"x":0.45,"y":0.41,"c":1},{"x":0.47,"y":0.41,"c":1},{"x":0.51,"y":0.41,"c":1},{"x":0.53,"y":0.41,"c":1},{"x":0.55,"y":0.41,"c":1},{"x":0.57,"y":0.41,"c":1},{"x":0.65,"y":0.41,"c":1},{"x":0.67,"y":0.41,"c":1},{"x":0.69,"y":0.41,"c":1},{"x":0.71,"y":0.41,"c":1},{"x":0.73,"y":0.41,"c":1},{"x":0.83,"y":0.41,"c":1},{"x":0.85,"y":0.41,"c":1},{"x":0.87,"y":0.41,"c":1},{"x":0.91,"y":0.41,"c":3},{"x":0.93,"y":0.41,"c":4},{"x":0.95,"y":0.41,"c":3},
{"x":0.05,"y":0.39,"c":1},{"x":0.07,"y":0.39,"c":1},{"x":0.09,"y":0.39,"c":1},{"x":0.11,"y":0.39,"c":1},{"x":0.13,"y":0.39,"c":1},{"x":0.15,"y":0.39,"c":1},{"x":0.17,"y":0.39,"c":1},{"x":0.19,"y":0.39,"c":1},{"x":0.21,"y":0.39,"c":1},{"x":0.23,"y":0.39,"c":1},{"x":0.25,"y":0.39,"c":1},{"x":0.27,"y":0.39,"c":1},{"x":0.43,"y":0.39,"c":1},{"x":0.45,"y":0.39,"c":1},{"x":0.47,"y":0.39,"c":1},{"x":0.49,"y":0.39,"c":1},{"x":0.53,"y":0.39,"c":1},{"x":0.55,"y":0.39,"c":1},{"x":0.57,"y":0.39,"c":1},{"x":0.59,"y":0.39,"c":1},{"x":0.67,"y":0.39,"c":1},{"x":0.69,"y":0.39,"c":1},{"x":0.71,"y":0.39,"c":1},{"x":0.73,"y":0.39,"c":1},{"x":0.75,"y":0.39,"c":7},{"x":0.77,"y":0.39,"c":7},{"x":0.85,"y":0.39,"c":1},{"x":0.87,"y":0.39,"c":1},{"x":0.89,"y":0.39,"c":1},{"x":0.91,"y":0.39,"c":2},{"x":0.93,"y":0.39,"c":1},{"x":0.95,"y":0.39,"c":1},
{"x":0.07,"y":0.37,"c":1},{"x":0.09,"y":0.37,"c":1},{"x":0.11,"y":0.37,"c":1},{"x":0.13,"y":0.37,"c":1},{"x":0.15,"y":0.37,"c":1},{"x":0.17,"y":0.37,"c":3},{"x":0.19,"y":0.37,"c":7},{"x":0.21,"y":0.37,"c":6},{"x":0.23,"y":0.37,"c":1},{"x":0.25,"y":0.37,"c":1},{"x":0.27,"y":0.37,"c":1},{"x":0.29,"y":0.37,"c":1},{"x":0.43,"y":0.37,"c":1},{"x":0.45,"y":0.37,"c":1},{"x":0.47,"y":0.37,"c":1},{"x":0.53,"y":0.37,"c":1},{"x":0.55,"y":0.37,"c":1},{"x":0.57,"y":0.37,"c":1},{"x":0.59,"y":0.37,"c":1},{"x":0.61,"y":0.37,"c":1},{"x":0.65,"y":0.37,"c":1},{"x":0.67,"y":0.37,"c":1},{"x":0.69,"y":0.37,"c":2},{"x":0.71,"y":0.37,"c":3},{"x":0.73,"y":0.37,"c":4},{"x":0.75,"y":0.37,"c":2},{"x":0.77,"y":0.37,"c":1},{"x":0.79,"y":0.37,"c":1},{"x":0.81,"y":0.37,"c":1},{"x":0.85,"y":0.37,"c":1},{"x":0.87,"y":0.37,"c":1},{"x":0.89,"y":0.37,"c":1},
{"x":0.15,"y":0.35,"c":1},{"x":0.17,"y":0.35,"c":3},{"x":0.19,"y":0.35,"c":7},{"x":0.21,"y":0.35,"c":6},{"x":0.23,"y":0.35,"c":2},{"x":0.25,"y":0.35,"c":1},{"x":0.27,"y":0.35,"c":1},{"x":0.29,"y":0.35,"c":1},{"x":0.31,"y":0.35,"c":1},{"x":0.37,"y":0.35,"c":1},{"x":0.39,"y":0.35,"c":1},{"x":0.41,"y":0.35,"c":1},{"x":0.43,"y":0.35,"c":1},{"x":0.45,"y":0.35,"c":1},{"x":0.47,"y":0.35,"c":1},{"x":0.53,"y":0.35,"c":1},{"x":0.55,"y":0.35,"c":1},{"x":0.59,"y":0.35,"c":1},{"x":0.61,"y":0.35,"c":1},{"x":0.63,"y":0.35,"c":1},{"x":0.65,"y":0.35,"c":1},{"x":0.67,"y":0.35,"c":1},{"x":0.69,"y":0.35,"c":2},{"x":0.71,"y":0.35,"c":5},{"x":0.73,"y":0.35,"c":5},{"x":0.75,"y":0.35,"c":2},{"x":0.77,"y":0.35,"c":1},
{"x":0.09,"y":0.33,"c":1},{"x":0.15,"y":0.33,"c":1},{"x":0.17,"y":0.33,"c":2},{"x":0.19,"y":0.33,"c":5},{"x":0.21,"y":0.33,"c":5},{"x":0.23,"y":0.33,"c":3},{"x":0.25,"y":0.33,"c":1},{"x":0.27,"y":0.33,"c":1},{"x":0.29,"y":0.33,"c":1},{"x":0.31,"y":0.33,"c":1},{"x":0.33,"y":0.33,"c":1},{"x":0.35,"y":0.33,"c":1},{"x":0.37,"y":0.33,"c":1},{"x":0.39,"y":0.33,"c":1},{"x":0.41,"y":0.33,"c":1},{"x":0.43,"y":0.33,"c":1},{"x":0.45,"y":0.33,"c":1},{"x":0.47,"y":0.33,"c":1},{"x":0.49,"y":0.33,"c":1},{"x":0.51,"y":0.33,"c":1},{"x":0.53,"y":0.33,"c":1},{"x":0.55,"y":0.33,"c":1},{"x":0.57,"y":0.33,"c":1},{"x":0.59,"y":0.33,"c":1},{"x":0.61,"y":0.33,"c":1},{"x":0.63,"y":0.33,"c":1},{"x":0.65,"y":0.33,"c":1},{"x":0.67,"y":0.33,"c":2},{"x":0.69,"y":0.33,"c":3},{"x":0.71,"y":0.33,"c":5},{"x":0.73,"y":0.33,"c":5},{"x":0.75,"y":0.33,"c":2},{"x":0.77,"y":0.33,"c":1},{"x":0.87,"y":0.33,"c":1},
{"x":0.07,"y":0.31,"c":1},{"x":0.09,"y":0.31,"c":1},{"x":0.11,"y":0.31,"c":1},{"x":0.13,"y":0.31,"c":1},{"x":0.15,"y":0.31,"c":1},{"x":0.17,"y":0.31,"c":2},{"x":0.19,"y":0.31,"c":5},{"x":0.21,"y":0.31,"c":4},{"x":0.23,"y":0.31,"c":2},{"x":0.25,"y":0.31,"c":1},{"x":0.27,"y":0.31,"c":1},{"x":0.29,"y":0.31,"c":1},{"x":0.31,"y":0.31,"c":1},{"x":0.33,"y":0.31,"c":1},{"x":0.35,"y":0.31,"c":1},{"x":0.37,"y":0.31,"c":1},{"x":0.39,"y":0.31,"c":1},{"x":0.41,"y":0.31,"c":1},{"x":0.43,"y":0.31,"c":1},{"x":0.45,"y":0.31,"c":1},{"x":0.47,"y":0.31,"c":1},{"x":0.49,"y":0.31,"c":1},{"x":0.51,"y":0.31,"c":1},{"x":0.53,"y":0.31,"c":1},{"x":0.55,"y":0.31,"c":1},{"x":0.57,"y":0.31,"c":1},{"x":0.59,"y":0.31,"c":1},{"x":0.61,"y":0.31,"c":1},{"x":0.63,"y":0.31,"c":1},{"x":0.65,"y":0.31,"c":1},{"x":0.67,"y":0.31,"c":1},{"x":0.69,"y":0.31,"c":2},{"x":0.71,"y":0.31,"c":4},{"x":0.73,"y":0.31,"c":4},{"x":0.75,"y":0.31,"c":2},{"x":0.77,"y":0.31,"c":1},
{"x":0.09,"y":0.29,"c":1},{"x":0.11,"y":0.29,"c":1},{"x":0.15,"y":0.29,"c":1},{"x":0.17,"y":0.29,"c":1},{"x":0.19,"y":0.29,"c":1},{"x":0.21,"y":0.29,"c":1},{"x":0.23,"y":0.29,"c":2},{"x":0.25,"y":0.29,"c":3},{"x":0.27,"y":0.29,"c":7},{"x":0.29,"y":0.29,"c":3},{"x":0.31,"y":0.29,"c":1},{"x":0.33,"y":0.29,"c":1},{"x":0.35,"y":0.29,"c":1},{"x":0.37,"y":0.29,"c":1},{"x":0.39,"y":0.29,"c":1},{"x":0.41,"y":0.29,"c":1},{"x":0.43,"y":0.29,"c":1},{"x":0.45,"y":0.29,"c":1},{"x":0.47,"y":0.29,"c":1},{"x":0.49,"y":0.29,"c":1},{"x":0.51,"y":0.29,"c":1},{"x":0.53,"y":0.29,"c":1},{"x":0.55,"y":0.29,"c":1},{"x":0.57,"y":0.29,"c":1},{"x":0.59,"y":0.29,"c":1},{"x":0.61,"y":0.29,"c":1},{"x":0.63,"y":0.29,"c":1},{"x":0.65,"y":0.29,"c":1},{"x":0.67,"y":0.29,"c":2},{"x":0.69,"y":0.29,"c":7},{"x":0.71,"y":0.29,"c":4},{"x":0.73,"y":0.29,"c":2},{"x":0.75,"y":0.29,"c":1},
{"x":0.11,"y":0.27,"c":1},{"x":0.17,"y":0.27,"c":1},{"x":0.19,"y":0.27,"c":1},{"x":0.21,"y":0.27,"c":1},{"x":0.23,"y":0.27,"c":1},{"x":0.25,"y":0.27,"c":2},{"x":0.27,"y":0.27,"c":4},{"x":0.29,"y":0.27,"c":2},{"x":0.31,"y":0.27,"c":1},{"x":0.33,"y":0.27,"c":1},{"x":0.35,"y":0.27,"c":1},{"x":0.37,"y":0.27,"c":1},{"x":0.39,"y":0.27,"c":1},{"x":0.41,"y":0.27,"c":1},{"x":0.43,"y":0.27,"c":1},{"x":0.45,"y":0.27,"c":1},{"x":0.47,"y":0.27,"c":1},{"x":0.51,"y":0.27,"c":1},{"x":0.53,"y":0.27,"c":1},{"x":0.55,"y":0.27,"c":1},{"x":0.57,"y":0.27,"c":1},{"x":0.59,"y":0.27,"c":1},{"x":0.61,"y":0.27,"c":1},{"x":0.63,"y":0.27,"c":1},{"x":0.65,"y":0.27,"c":2},{"x":0.67,"y":0.27,"c":3},{"x":0.69,"y":0.27,"c":4},{"x":0.71,"y":0.27,"c":4},{"x":0.73,"y":0.27,"c":1},{"x":0.75,"y":0.27,"c":1},
{"x":0.19,"y":0.25,"c":1},{"x":0.21,"y":0.25,"c":1},{"x":0.23,"y":0.25,"c":1},{"x":0.25,"y":0.25,"c":2},{"x":0.27,"y":0.25,"c":4},{"x":0.29,"y":0.25,"c":2},{"x":0.31,"y":0.25,"c":1},{"x":0.33,"y":0.25,"c":1},{"x":0.35,"y":0.25,"c":1},{"x":0.37,"y":0.25,"c":1},{"x":0.39,"y":0.25,"c":1},{"x":0.41,"y":0.25,"c":1},{"x":0.43,"y":0.25,"c":1},{"x":0.45,"y":0.25,"c":1},{"x":0.47,"y":0.25,"c":1},{"x":0.49,"y":0.25,"c":1},{"x":0.51,"y":0.25,"c":1},{"x":0.53,"y":0.25,"c":1},{"x":0.55,"y":0.25,"c":1},{"x":0.57,"y":0.25,"c":1},{"x":0.59,"y":0.25,"c":1},{"x":0.61,"y":0.25,"c":1},{"x":0.63,"y":0.25,"c":1},{"x":0.65,"y":0.25,"c":3},{"x":0.67,"y":0.25,"c":3},{"x":0.69,"y":0.25,"c":4},{"x":0.71,"y":0.25,"c":2},{"x":0.73,"y":0.25,"c":1},{"x":0.75,"y":0.25,"c":1},{"x":0.81,"y":0.25,"c":1},
{"x":0.19,"y":0.23,"c":1},{"x":0.21,"y":0.23,"c":1},{"x":0.23,"y":0.23,"c":1},{"x":0.25,"y":0.23,"c":2},{"x":0.27,"y":0.23,"c":3},{"x":0.29,"y":0.23,"c":3},{"x":0.31,"y":0.23,"c":1},{"x":0.33,"y":0.23,"c":1},{"x":0.35,"y":0.23,"c":1},{"x":0.37,"y":0.23,"c":1},{"x":0.39,"y":0.23,"c":1},{"x":0.41,"y":0.23,"c":1},{"x":0.43,"y":0.23,"c":1},{"x":0.45,"y":0.23,"c":1},{"x":0.47,"y":0.23,"c":1},{"x":0.49,"y":0.23,"c":1},{"x":0.51,"y":0.23,"c":1},{"x":0.53,"y":0.23,"c":1},{"x":0.55,"y":0.23,"c":1},{"x":0.57,"y":0.23,"c":1},{"x":0.59,"y":0.23,"c":1},{"x":0.61,"y":0.23,"c":1},{"x":0.63,"y":0.23,"c":1},{"x":0.65,"y":0.23,"c":2},{"x":0.67,"y":0.23,"c":2},{"x":0.69,"y":0.23,"c":3},{"x":0.71,"y":0.23,"c":1},{"x":0.73,"y":0.23,"c":1},{"x":0.75,"y":0.23,"c":1},{"x":0.79,"y":0.23,"c":1},
{"x":0.09,"y":0.21,"c":1},{"x":0.21,"y":0.21,"c":1},{"x":0.23,"y":0.21,"c":1},{"x":0.25,"y":0.21,"c":1},{"x":0.27,"y":0.21,"c":3},{"x":0.29,"y":0.21,"c":6},{"x":0.31,"y":0.21,"c":4},{"x":0.33,"y":0.21,"c":1},{"x":0.35,"y":0.21,"c":1},{"x":0.37,"y":0.21,"c":1},{"x":0.39,"y":0.21,"c":2},{"x":0.41,"y":0.21,"c":3},{"x":0.43,"y":0.21,"c":2},{"x":0.45,"y":0.21,"c":1},{"x":0.47,"y":0.21,"c":1},{"x":0.49,"y":0.21,"c":1},{"x":0.51,"y":0.21,"c":1},{"x":0.53,"y":0.21,"c":1},{"x":0.55,"y":0.21,"c":1},{"x":0.57,"y":0.21,"c":1},{"x":0.59,"y":0.21,"c":1},{"x":0.61,"y":0.21,"c":1},{"x":0.63,"y":0.21,"c":1},{"x":0.65,"y":0.21,"c":3},{"x":0.67,"y":0.21,"c":6},{"x":0.69,"y":0.21,"c":3},{"x":0.71,"y":0.21,"c":1},{"x":0.73,"y":0.21,"c":1},{"x":0.75,"y":0.21,"c":1},
{"x":0.23,"y":0.19,"c":1},{"x":0.25,"y":0.19,"c":1},{"x":0.27,"y":0.19,"c":3},{"x":0.29,"y":0.19,"c":7},{"x":0.31,"y":0.19,"c":3},{"x":0.35,"y":0.19,"c":1},{"x":0.37,"y":0.19,"c":1},{"x":0.39,"y":0.19,"c":2},{"x":0.41,"y":0.19,"c":3},{"x":0.43,"y":0.19,"c":3},{"x":0.45,"y":0.19,"c":1},{"x":0.47,"y":0.19,"c":1},{"x":0.49,"y":0.19,"c":1},{"x":0.51,"y":0.19,"c":1},{"x":0.53,"y":0.19,"c":1},{"x":0.55,"y":0.19,"c":1},{"x":0.57,"y":0.19,"c":2},{"x":0.59,"y":0.19,"c":3},{"x":0.61,"y":0.19,"c":3},{"x":0.63,"y":0.19,"c":1},{"x":0.65,"y":0.19,"c":3},{"x":0.67,"y":0.19,"c":7},{"x":0.69,"y":0.19,"c":6},{"x":0.71,"y":0.19,"c":3},{"x":0.73,"y":0.19,"c":1},{"x":0.75,"y":0.19,"c":1},
{"x":0.25,"y":0.17,"c":1},{"x":0.27,"y":0.17,"c":1},{"x":0.29,"y":0.17,"c":1},{"x":0.35,"y":0.17,"c":1},{"x":0.37,"y":0.17,"c":1},{"x":0.39,"y":0.17,"c":1},{"x":0.41,"y":0.17,"c":1},{"x":0.43,"y":0.17,"c":1},{"x":0.45,"y":0.17,"c":1},{"x":0.47,"y":0.17,"c":1},{"x":0.49,"y":0.17,"c":1},{"x":0.51,"y":0.17,"c":1},{"x":0.53,"y":0.17,"c":1},{"x":0.55,"y":0.17,"c":1},{"x":0.57,"y":0.17,"c":1},{"x":0.59,"y":0.17,"c":1},{"x":0.61,"y":0.17,"c":1},{"x":0.63,"y":0.17,"c":1},{"x":0.65,"y":0.17,"c":1},{"x":0.67,"y":0.17,"c":1},{"x":0.71,"y":0.17,"c":1},
{"x":0.33,"y":0.15,"c":1},{"x":0.35,"y":0.15,"c":1},{"x":0.37,"y":0.15,"c":1},{"x":0.39,"y":0.15,"c":1},{"x":0.41,"y":0.15,"c":1},{"x":0.43,"y":0.15,"c":1},{"x":0.45,"y":0.15,"c":1},{"x":0.47,"y":0.15,"c":1},{"x":0.49,"y":0.15,"c":1},{"x":0.51,"y":0.15,"c":1},{"x":0.53,"y":0.15,"c":1},{"x":0.55,"y":0.15,"c":1},{"x":0.57,"y":0.15,"c":1},{"x":0.59,"y":0.15,"c":1},{"x":0.61,"y":0.15,"c":1},{"x":0.63,"y":0.15,"c":1},{"x":0.65,"y":0.15,"c":1},
{"x":0.35,"y":0.13,"c":1},{"x":0.37,"y":0.13,"c":1},{"x":0.39,"y":0.13,"c":1},{"x":0.41,"y":0.13,"c":1},{"x":0.43,"y":0.13,"c":1},{"x":0.45,"y":0.13,"c":1},{"x":0.47,"y":0.13,"c":1},{"x":0.49,"y":0.13,"c":1},{"x":0.51,"y":0.13,"c":1},{"x":0.53,"y":0.13,"c":1},{"x":0.55,"y":0.13,"c":1},{"x":0.57,"y":0.13,"c":1},{"x":0.59,"y":0.13,"c":1},{"x":0.61,"y":0.13,"c":1},{"x":0.63,"y":0.13,"c":1},
{"x":0.37,"y":0.11,"c":1},{"x":0.39,"y":0.11,"c":1},{"x":0.41,"y":0.11,"c":1},{"x":0.43,"y":0.11,"c":1},{"x":0.45,"y":0.11,"c":1},{"x":0.47,"y":0.11,"c":1},{"x":0.49,"y":0.11,"c":1},{"x":0.51,"y":0.11,"c":1},{"x":0.53,"y":0.11,"c":1},{"x":0.55,"y":0.11,"c":1},{"x":0.57,"y":0.11,"c":1},{"x":0.61,"y":0.11,"c":1},
{"x":0.39,"y":0.09,"c":1},{"x":0.41,"y":0.09,"c":1},{"x":0.43,"y":0.09,"c":1},{"x":0.45,"y":0.09,"c":1},{"x":0.47,"y":0.09,"c":1},{"x":0.49,"y":0.09,"c":1},{"x":0.51,"y":0.09,"c":1},{"x":0.53,"y":0.09,"c":1},{"x":0.55,"y":0.09,"c":1},{"x":0.57,"y":0.09,"c":1},{"x":0.61,"y":0.09,"c":1},
{"x":0.41,"y":0.07,"c":1},{"x":0.43,"y":0.07,"c":1},{"x":0.45,"y":0.07,"c":1},{"x":0.47,"y":0.07,"c":1},{"x":0.49,"y":0.07,"c":1},{"x":0.53,"y":0.07,"c":1},{"x":0.57,"y":0.07,"c":1},{"x":0.61,"y":0.07,"c":1}
]},"mark":{"type":"rect","strokeWidth":0.7},
"encoding":{"x":{"field":"x","type":"quantitative","bin":{"step":0.02},"title":"x","scale":{"domain":[-0.051,1.005],"nice":false},"axis":{"values":[0,0.4,0.8],"labelPadding":8,"titlePadding":10,"titleFontStyle":"italic","format":"~g"}},"y":{"field":"y","type":"quantitative","bin":{"step":0.02},"title":"y","scale":{"domain":[0.005,1],"nice":false},"axis":{"values":[0.2,0.6,1],"format":".1f","titlePadding":17,"titleFontStyle":"italic"}},"color":{"field":"c","aggregate":"sum","type":"quantitative","legend":null,"scale":{"domain":[1,2,3,4,5,6,7],"range":["#b4cfec","#a0c4ea","#6fb1ea","#2f9be8","#2a78b8","#2b5578","#2d3e50"]}},"stroke":{"field":"c","aggregate":"sum","type":"quantitative","legend":null,"scale":{"domain":[1,2,3,4,5,6,7],"range":["#b4cfec","#a0c4ea","#6fb1ea","#2f9be8","#2a78b8","#2b5578","#2d3e50"]}}}},
{"width":196,"height":215,"data":{"values":[
{"x":0.009,"y":0.005,"c":1},{"x":0.009,"y":0.014,"c":1},{"x":0.027,"y":0.024,"c":1},{"x":0.045,"y":0.024,"c":1},
{"x":0.027,"y":0.033,"c":1},{"x":0.045,"y":0.033,"c":1},{"x":0.063,"y":0.033,"c":1},{"x":0.081,"y":0.033,"c":1},{"x":0.099,"y":0.033,"c":1},
{"x":0.027,"y":0.043,"c":1},{"x":0.045,"y":0.043,"c":2},{"x":0.063,"y":0.043,"c":2},{"x":0.081,"y":0.043,"c":2},{"x":0.099,"y":0.043,"c":1},{"x":0.171,"y":0.043,"c":1},
{"x":0.027,"y":0.052,"c":1},{"x":0.045,"y":0.052,"c":2},{"x":0.063,"y":0.052,"c":3},{"x":0.081,"y":0.052,"c":4},{"x":0.099,"y":0.052,"c":2},{"x":0.117,"y":0.052,"c":1},
{"x":0.027,"y":0.062,"c":1},{"x":0.045,"y":0.062,"c":3},{"x":0.063,"y":0.062,"c":4},{"x":0.081,"y":0.062,"c":5},{"x":0.099,"y":0.062,"c":3},{"x":0.117,"y":0.062,"c":2},{"x":0.135,"y":0.062,"c":1},{"x":0.243,"y":0.062,"c":1},
{"x":0.027,"y":0.071,"c":2},{"x":0.045,"y":0.071,"c":3},{"x":0.063,"y":0.071,"c":4},{"x":0.081,"y":0.071,"c":6},{"x":0.099,"y":0.071,"c":6},{"x":0.117,"y":0.071,"c":3},{"x":0.135,"y":0.071,"c":2},{"x":0.153,"y":0.071,"c":1},
{"x":0.027,"y":0.081,"c":2},{"x":0.045,"y":0.081,"c":3},{"x":0.063,"y":0.081,"c":5},{"x":0.081,"y":0.081,"c":7},{"x":0.099,"y":0.081,"c":7},{"x":0.117,"y":0.081,"c":5},{"x":0.135,"y":0.081,"c":2},{"x":0.153,"y":0.081,"c":1},{"x":0.171,"y":0.081,"c":1},
{"x":0.027,"y":0.09,"c":2},{"x":0.045,"y":0.09,"c":3},{"x":0.063,"y":0.09,"c":6},{"x":0.081,"y":0.09,"c":7},{"x":0.099,"y":0.09,"c":7},{"x":0.117,"y":0.09,"c":6},{"x":0.135,"y":0.09,"c":3},{"x":0.153,"y":0.09,"c":2},{"x":0.171,"y":0.09,"c":1},{"x":0.189,"y":0.09,"c":1},
{"x":0.027,"y":0.1,"c":1},{"x":0.045,"y":0.1,"c":3},{"x":0.063,"y":0.1,"c":5},{"x":0.081,"y":0.1,"c":7},{"x":0.099,"y":0.1,"c":7},{"x":0.117,"y":0.1,"c":5},{"x":0.135,"y":0.1,"c":2},{"x":0.153,"y":0.1,"c":2},{"x":0.171,"y":0.1,"c":1},{"x":0.189,"y":0.1,"c":1},{"x":0.207,"y":0.1,"c":1},{"x":0.279,"y":0.1,"c":1},{"x":0.333,"y":0.1,"c":1},
{"x":0.027,"y":0.109,"c":1},{"x":0.045,"y":0.109,"c":2},{"x":0.063,"y":0.109,"c":3},{"x":0.081,"y":0.109,"c":6},{"x":0.099,"y":0.109,"c":7},{"x":0.117,"y":0.109,"c":4},{"x":0.135,"y":0.109,"c":2},{"x":0.153,"y":0.109,"c":1},{"x":0.171,"y":0.109,"c":1},{"x":0.189,"y":0.109,"c":1},{"x":0.207,"y":0.109,"c":1},{"x":0.225,"y":0.109,"c":1},{"x":0.261,"y":0.109,"c":1},{"x":0.279,"y":0.109,"c":1},{"x":0.333,"y":0.109,"c":1},
{"x":0.045,"y":0.119,"c":1},{"x":0.063,"y":0.119,"c":3},{"x":0.081,"y":0.119,"c":6},{"x":0.099,"y":0.119,"c":7},{"x":0.117,"y":0.119,"c":3},{"x":0.135,"y":0.119,"c":2},{"x":0.153,"y":0.119,"c":1},{"x":0.171,"y":0.119,"c":1},{"x":0.189,"y":0.119,"c":1},{"x":0.207,"y":0.119,"c":1},{"x":0.225,"y":0.119,"c":1},{"x":0.279,"y":0.119,"c":1},{"x":0.369,"y":0.119,"c":1},
{"x":0.045,"y":0.128,"c":1},{"x":0.063,"y":0.128,"c":2},{"x":0.081,"y":0.128,"c":6},{"x":0.099,"y":0.128,"c":7},{"x":0.117,"y":0.128,"c":3},{"x":0.135,"y":0.128,"c":2},{"x":0.153,"y":0.128,"c":1},{"x":0.171,"y":0.128,"c":1},{"x":0.189,"y":0.128,"c":1},{"x":0.207,"y":0.128,"c":1},{"x":0.225,"y":0.128,"c":1},{"x":0.279,"y":0.128,"c":1},
{"x":0.045,"y":0.138,"c":1},{"x":0.063,"y":0.138,"c":2},{"x":0.081,"y":0.138,"c":4},{"x":0.099,"y":0.138,"c":5},{"x":0.117,"y":0.138,"c":3},{"x":0.135,"y":0.138,"c":2},{"x":0.153,"y":0.138,"c":1},{"x":0.171,"y":0.138,"c":1},{"x":0.189,"y":0.138,"c":1},{"x":0.207,"y":0.138,"c":1},{"x":0.225,"y":0.138,"c":1},{"x":0.243,"y":0.138,"c":1},{"x":0.261,"y":0.138,"c":1},{"x":0.279,"y":0.138,"c":1},{"x":0.297,"y":0.138,"c":1},{"x":0.315,"y":0.138,"c":1},{"x":0.333,"y":0.138,"c":1},{"x":0.351,"y":0.138,"c":1},
{"x":0.045,"y":0.147,"c":1},{"x":0.063,"y":0.147,"c":2},{"x":0.081,"y":0.147,"c":3},{"x":0.099,"y":0.147,"c":5},{"x":0.117,"y":0.147,"c":3},{"x":0.135,"y":0.147,"c":2},{"x":0.153,"y":0.147,"c":1},{"x":0.171,"y":0.147,"c":1},{"x":0.189,"y":0.147,"c":1},{"x":0.207,"y":0.147,"c":1},{"x":0.225,"y":0.147,"c":1},{"x":0.243,"y":0.147,"c":1},{"x":0.261,"y":0.147,"c":1},{"x":0.279,"y":0.147,"c":1},{"x":0.297,"y":0.147,"c":1},{"x":0.315,"y":0.147,"c":1},{"x":0.333,"y":0.147,"c":1},{"x":0.351,"y":0.147,"c":1},{"x":0.369,"y":0.147,"c":1},
{"x":0.045,"y":0.157,"c":1},{"x":0.063,"y":0.157,"c":2},{"x":0.081,"y":0.157,"c":3},{"x":0.099,"y":0.157,"c":5},{"x":0.117,"y":0.157,"c":3},{"x":0.135,"y":0.157,"c":3},{"x":0.153,"y":0.157,"c":3},{"x":0.171,"y":0.157,"c":3},{"x":0.189,"y":0.157,"c":2},{"x":0.207,"y":0.157,"c":1},{"x":0.225,"y":0.157,"c":1},{"x":0.243,"y":0.157,"c":1},{"x":0.261,"y":0.157,"c":1},{"x":0.279,"y":0.157,"c":1},{"x":0.351,"y":0.157,"c":1},{"x":0.369,"y":0.157,"c":1},
{"x":0.045,"y":0.166,"c":1},{"x":0.063,"y":0.166,"c":2},{"x":0.081,"y":0.166,"c":3},{"x":0.099,"y":0.166,"c":5},{"x":0.117,"y":0.166,"c":3},{"x":0.135,"y":0.166,"c":3},{"x":0.153,"y":0.166,"c":5},{"x":0.171,"y":0.166,"c":6},{"x":0.189,"y":0.166,"c":5},{"x":0.207,"y":0.166,"c":3},{"x":0.225,"y":0.166,"c":1},{"x":0.243,"y":0.166,"c":1},{"x":0.261,"y":0.166,"c":1},{"x":0.351,"y":0.166,"c":1},{"x":0.369,"y":0.166,"c":1},{"x":0.387,"y":0.166,"c":1},{"x":0.441,"y":0.166,"c":1},
{"x":0.045,"y":0.176,"c":1},{"x":0.063,"y":0.176,"c":2},{"x":0.081,"y":0.176,"c":3},{"x":0.099,"y":0.176,"c":5},{"x":0.117,"y":0.176,"c":3},{"x":0.135,"y":0.176,"c":4},{"x":0.153,"y":0.176,"c":6},{"x":0.171,"y":0.176,"c":7},{"x":0.189,"y":0.176,"c":6},{"x":0.207,"y":0.176,"c":3},{"x":0.225,"y":0.176,"c":1},{"x":0.243,"y":0.176,"c":1},{"x":0.261,"y":0.176,"c":1},{"x":0.279,"y":0.176,"c":1},{"x":0.297,"y":0.176,"c":1},{"x":0.315,"y":0.176,"c":1},{"x":0.333,"y":0.176,"c":1},{"x":0.351,"y":0.176,"c":1},{"x":0.369,"y":0.176,"c":1},{"x":0.423,"y":0.176,"c":1},
{"x":0.063,"y":0.185,"c":1},{"x":0.081,"y":0.185,"c":3},{"x":0.099,"y":0.185,"c":5},{"x":0.117,"y":0.185,"c":3},{"x":0.135,"y":0.185,"c":3},{"x":0.153,"y":0.185,"c":5},{"x":0.171,"y":0.185,"c":6},{"x":0.189,"y":0.185,"c":5},{"x":0.207,"y":0.185,"c":3},{"x":0.225,"y":0.185,"c":2},{"x":0.243,"y":0.185,"c":1},{"x":0.261,"y":0.185,"c":1},{"x":0.279,"y":0.185,"c":1},{"x":0.297,"y":0.185,"c":1},{"x":0.315,"y":0.185,"c":1},{"x":0.333,"y":0.185,"c":1},{"x":0.351,"y":0.185,"c":1},{"x":0.369,"y":0.185,"c":1},{"x":0.387,"y":0.185,"c":1},{"x":0.405,"y":0.185,"c":1},{"x":0.675,"y":0.185,"c":1},
{"x":0.063,"y":0.195,"c":1},{"x":0.081,"y":0.195,"c":3},{"x":0.099,"y":0.195,"c":6},{"x":0.117,"y":0.195,"c":6},{"x":0.135,"y":0.195,"c":3},{"x":0.153,"y":0.195,"c":2},{"x":0.171,"y":0.195,"c":3},{"x":0.189,"y":0.195,"c":3},{"x":0.207,"y":0.195,"c":2},{"x":0.225,"y":0.195,"c":1},{"x":0.243,"y":0.195,"c":1},{"x":0.261,"y":0.195,"c":1},{"x":0.279,"y":0.195,"c":1},{"x":0.297,"y":0.195,"c":1},{"x":0.315,"y":0.195,"c":1},{"x":0.333,"y":0.195,"c":1},{"x":0.351,"y":0.195,"c":1},{"x":0.369,"y":0.195,"c":1},{"x":0.387,"y":0.195,"c":1},{"x":0.405,"y":0.195,"c":1},
{"x":0.063,"y":0.204,"c":1},{"x":0.081,"y":0.204,"c":3},{"x":0.099,"y":0.204,"c":7},{"x":0.117,"y":0.204,"c":6},{"x":0.135,"y":0.204,"c":3},{"x":0.153,"y":0.204,"c":2},{"x":0.171,"y":0.204,"c":2},{"x":0.189,"y":0.204,"c":2},{"x":0.207,"y":0.204,"c":1},{"x":0.225,"y":0.204,"c":1},{"x":0.243,"y":0.204,"c":1},{"x":0.261,"y":0.204,"c":1},{"x":0.279,"y":0.204,"c":1},{"x":0.297,"y":0.204,"c":1},{"x":0.315,"y":0.204,"c":1},{"x":0.333,"y":0.204,"c":1},{"x":0.351,"y":0.204,"c":1},{"x":0.369,"y":0.204,"c":1},{"x":0.387,"y":0.204,"c":1},{"x":0.765,"y":0.204,"c":1},
{"x":0.081,"y":0.214,"c":2},{"x":0.099,"y":0.214,"c":7},{"x":0.117,"y":0.214,"c":5},{"x":0.135,"y":0.214,"c":3},{"x":0.153,"y":0.214,"c":2},{"x":0.171,"y":0.214,"c":2},{"x":0.189,"y":0.214,"c":2},{"x":0.207,"y":0.214,"c":1},{"x":0.225,"y":0.214,"c":1},{"x":0.243,"y":0.214,"c":1},{"x":0.261,"y":0.214,"c":4},{"x":0.279,"y":0.214,"c":4},{"x":0.297,"y":0.214,"c":4},{"x":0.315,"y":0.214,"c":4},{"x":0.333,"y":0.214,"c":2},{"x":0.351,"y":0.214,"c":1},{"x":0.369,"y":0.214,"c":1},{"x":0.387,"y":0.214,"c":1},{"x":0.405,"y":0.214,"c":1},
{"x":0.081,"y":0.223,"c":2},{"x":0.099,"y":0.223,"c":5},{"x":0.117,"y":0.223,"c":4},{"x":0.135,"y":0.223,"c":3},{"x":0.153,"y":0.223,"c":2},{"x":0.171,"y":0.223,"c":2},{"x":0.189,"y":0.223,"c":1},{"x":0.207,"y":0.223,"c":1},{"x":0.225,"y":0.223,"c":1},{"x":0.243,"y":0.223,"c":1},{"x":0.261,"y":0.223,"c":1},{"x":0.279,"y":0.223,"c":1},{"x":0.297,"y":0.223,"c":1},{"x":0.315,"y":0.223,"c":1},{"x":0.333,"y":0.223,"c":1},{"x":0.351,"y":0.223,"c":1},{"x":0.387,"y":0.223,"c":1},{"x":0.405,"y":0.223,"c":1},{"x":0.441,"y":0.223,"c":1},{"x":0.675,"y":0.223,"c":1},{"x":0.747,"y":0.223,"c":1},
{"x":0.081,"y":0.233,"c":2},{"x":0.099,"y":0.233,"c":4},{"x":0.117,"y":0.233,"c":4},{"x":0.135,"y":0.233,"c":3},{"x":0.153,"y":0.233,"c":2},{"x":0.171,"y":0.233,"c":2},{"x":0.189,"y":0.233,"c":1},{"x":0.207,"y":0.233,"c":1},{"x":0.225,"y":0.233,"c":1},{"x":0.243,"y":0.233,"c":1},{"x":0.261,"y":0.233,"c":1},{"x":0.279,"y":0.233,"c":1},{"x":0.297,"y":0.233,"c":1},{"x":0.315,"y":0.233,"c":1},{"x":0.333,"y":0.233,"c":1},{"x":0.351,"y":0.233,"c":1},{"x":0.369,"y":0.233,"c":1},{"x":0.477,"y":0.233,"c":1},{"x":0.621,"y":0.233,"c":1},
{"x":0.063,"y":0.242,"c":1},{"x":0.081,"y":0.242,"c":2},{"x":0.099,"y":0.242,"c":4},{"x":0.117,"y":0.242,"c":4},{"x":0.135,"y":0.242,"c":3},{"x":0.153,"y":0.242,"c":2},{"x":0.171,"y":0.242,"c":2},{"x":0.189,"y":0.242,"c":2},{"x":0.207,"y":0.242,"c":1},{"x":0.225,"y":0.242,"c":2},{"x":0.243,"y":0.242,"c":2},{"x":0.261,"y":0.242,"c":1},{"x":0.279,"y":0.242,"c":1},{"x":0.297,"y":0.242,"c":1},{"x":0.315,"y":0.242,"c":1},{"x":0.333,"y":0.242,"c":1},{"x":0.351,"y":0.242,"c":1},{"x":0.369,"y":0.242,"c":1},{"x":0.387,"y":0.242,"c":1},{"x":0.531,"y":0.242,"c":1},{"x":0.675,"y":0.242,"c":1},
{"x":0.063,"y":0.252,"c":1},{"x":0.081,"y":0.252,"c":2},{"x":0.099,"y":0.252,"c":6},{"x":0.117,"y":0.252,"c":4},{"x":0.135,"y":0.252,"c":4},{"x":0.153,"y":0.252,"c":5},{"x":0.171,"y":0.252,"c":4},{"x":0.189,"y":0.252,"c":2},{"x":0.207,"y":0.252,"c":2},{"x":0.225,"y":0.252,"c":2},{"x":0.243,"y":0.252,"c":2},{"x":0.261,"y":0.252,"c":3},{"x":0.279,"y":0.252,"c":2},{"x":0.297,"y":0.252,"c":1},{"x":0.315,"y":0.252,"c":1},{"x":0.333,"y":0.252,"c":1},{"x":0.351,"y":0.252,"c":1},{"x":0.369,"y":0.252,"c":1},{"x":0.387,"y":0.252,"c":1},{"x":0.405,"y":0.252,"c":1},
{"x":0.063,"y":0.261,"c":1},{"x":0.081,"y":0.261,"c":3},{"x":0.099,"y":0.261,"c":4},{"x":0.117,"y":0.261,"c":4},{"x":0.135,"y":0.261,"c":4},{"x":0.153,"y":0.261,"c":6},{"x":0.171,"y":0.261,"c":7},{"x":0.189,"y":0.261,"c":3},{"x":0.207,"y":0.261,"c":2},{"x":0.225,"y":0.261,"c":2},{"x":0.243,"y":0.261,"c":2},{"x":0.261,"y":0.261,"c":2},{"x":0.279,"y":0.261,"c":1},{"x":0.297,"y":0.261,"c":1},{"x":0.315,"y":0.261,"c":1},{"x":0.333,"y":0.261,"c":1},{"x":0.369,"y":0.261,"c":1},{"x":0.387,"y":0.261,"c":1},{"x":0.405,"y":0.261,"c":1},{"x":0.585,"y":0.261,"c":1},{"x":0.711,"y":0.261,"c":1},{"x":0.747,"y":0.261,"c":1},
{"x":0.063,"y":0.271,"c":1},{"x":0.081,"y":0.271,"c":3},{"x":0.099,"y":0.271,"c":4},{"x":0.117,"y":0.271,"c":4},{"x":0.135,"y":0.271,"c":4},{"x":0.153,"y":0.271,"c":6},{"x":0.171,"y":0.271,"c":7},{"x":0.189,"y":0.271,"c":5},{"x":0.207,"y":0.271,"c":3},{"x":0.225,"y":0.271,"c":5},{"x":0.243,"y":0.271,"c":5},{"x":0.261,"y":0.271,"c":2},{"x":0.279,"y":0.271,"c":1},{"x":0.297,"y":0.271,"c":1},{"x":0.315,"y":0.271,"c":1},{"x":0.333,"y":0.271,"c":1},{"x":0.351,"y":0.271,"c":1},{"x":0.369,"y":0.271,"c":1},{"x":0.387,"y":0.271,"c":1},{"x":0.405,"y":0.271,"c":1},{"x":0.477,"y":0.271,"c":1},{"x":0.531,"y":0.271,"c":1},{"x":0.639,"y":0.271,"c":1},{"x":0.657,"y":0.271,"c":1},
{"x":0.063,"y":0.28,"c":1},{"x":0.081,"y":0.28,"c":3},{"x":0.099,"y":0.28,"c":4},{"x":0.117,"y":0.28,"c":4},{"x":0.135,"y":0.28,"c":4},{"x":0.153,"y":0.28,"c":5},{"x":0.171,"y":0.28,"c":6},{"x":0.189,"y":0.28,"c":6},{"x":0.207,"y":0.28,"c":3},{"x":0.225,"y":0.28,"c":6},{"x":0.243,"y":0.28,"c":7},{"x":0.261,"y":0.28,"c":4},{"x":0.279,"y":0.28,"c":1},{"x":0.297,"y":0.28,"c":1},{"x":0.315,"y":0.28,"c":1},{"x":0.333,"y":0.28,"c":1},{"x":0.351,"y":0.28,"c":1},{"x":0.369,"y":0.28,"c":1},{"x":0.387,"y":0.28,"c":1},{"x":0.405,"y":0.28,"c":1},{"x":0.477,"y":0.28,"c":1},{"x":0.531,"y":0.28,"c":1},{"x":0.657,"y":0.28,"c":1},
{"x":0.063,"y":0.29,"c":1},{"x":0.081,"y":0.29,"c":2},{"x":0.099,"y":0.29,"c":4},{"x":0.117,"y":0.29,"c":4},{"x":0.135,"y":0.29,"c":4},{"x":0.153,"y":0.29,"c":4},{"x":0.171,"y":0.29,"c":4},{"x":0.189,"y":0.29,"c":4},{"x":0.207,"y":0.29,"c":4},{"x":0.225,"y":0.29,"c":5},{"x":0.243,"y":0.29,"c":6},{"x":0.261,"y":0.29,"c":4},{"x":0.279,"y":0.29,"c":2},{"x":0.297,"y":0.29,"c":1},{"x":0.315,"y":0.29,"c":1},{"x":0.333,"y":0.29,"c":1},{"x":0.351,"y":0.29,"c":1},{"x":0.369,"y":0.29,"c":1},{"x":0.441,"y":0.29,"c":1},{"x":0.513,"y":0.29,"c":1},{"x":0.531,"y":0.29,"c":1},{"x":0.675,"y":0.29,"c":1},{"x":0.783,"y":0.29,"c":1},
{"x":0.081,"y":0.299,"c":1},{"x":0.099,"y":0.299,"c":2},{"x":0.117,"y":0.299,"c":3},{"x":0.135,"y":0.299,"c":3},{"x":0.153,"y":0.299,"c":2},{"x":0.171,"y":0.299,"c":2},{"x":0.189,"y":0.299,"c":2},{"x":0.207,"y":0.299,"c":2},{"x":0.225,"y":0.299,"c":3},{"x":0.243,"y":0.299,"c":3},{"x":0.261,"y":0.299,"c":2},{"x":0.279,"y":0.299,"c":1},{"x":0.297,"y":0.299,"c":1},{"x":0.315,"y":0.299,"c":1},{"x":0.333,"y":0.299,"c":1},{"x":0.351,"y":0.299,"c":1},{"x":0.369,"y":0.299,"c":1},{"x":0.387,"y":0.299,"c":1},{"x":0.549,"y":0.299,"c":1},
{"x":0.081,"y":0.309,"c":1},{"x":0.099,"y":0.309,"c":1},{"x":0.117,"y":0.309,"c":1},{"x":0.135,"y":0.309,"c":1},{"x":0.153,"y":0.309,"c":1},{"x":0.171,"y":0.309,"c":1},{"x":0.189,"y":0.309,"c":1},{"x":0.207,"y":0.309,"c":1},{"x":0.225,"y":0.309,"c":1},{"x":0.243,"y":0.309,"c":1},{"x":0.261,"y":0.309,"c":1},{"x":0.279,"y":0.309,"c":1},{"x":0.297,"y":0.309,"c":1},{"x":0.315,"y":0.309,"c":1},{"x":0.333,"y":0.309,"c":1},{"x":0.459,"y":0.309,"c":1},
{"x":0.081,"y":0.318,"c":1},{"x":0.099,"y":0.318,"c":1},{"x":0.117,"y":0.318,"c":1},{"x":0.135,"y":0.318,"c":1},{"x":0.153,"y":0.318,"c":1},{"x":0.171,"y":0.318,"c":1},{"x":0.189,"y":0.318,"c":1},{"x":0.207,"y":0.318,"c":1},{"x":0.225,"y":0.318,"c":1},{"x":0.243,"y":0.318,"c":1},{"x":0.279,"y":0.318,"c":1},{"x":0.297,"y":0.318,"c":1},{"x":0.315,"y":0.318,"c":1},{"x":0.333,"y":0.318,"c":1},
{"x":0.045,"y":0.328,"c":1},{"x":0.081,"y":0.328,"c":1},{"x":0.099,"y":0.328,"c":1},{"x":0.117,"y":0.328,"c":1},{"x":0.135,"y":0.328,"c":1},{"x":0.153,"y":0.328,"c":1},{"x":0.171,"y":0.328,"c":1},{"x":0.189,"y":0.328,"c":1},{"x":0.207,"y":0.328,"c":1},{"x":0.225,"y":0.328,"c":1},{"x":0.243,"y":0.328,"c":1},{"x":0.765,"y":0.328,"c":1},
{"x":0.063,"y":0.337,"c":1},{"x":0.081,"y":0.337,"c":1},{"x":0.099,"y":0.337,"c":1},{"x":0.117,"y":0.337,"c":1},{"x":0.135,"y":0.337,"c":1},{"x":0.153,"y":0.337,"c":1},{"x":0.171,"y":0.337,"c":1},{"x":0.189,"y":0.337,"c":1},{"x":0.207,"y":0.337,"c":1},{"x":0.225,"y":0.337,"c":1},{"x":0.279,"y":0.337,"c":1},{"x":0.297,"y":0.337,"c":1},{"x":0.315,"y":0.337,"c":1},{"x":0.495,"y":0.337,"c":1},
{"x":0.063,"y":0.347,"c":1},{"x":0.081,"y":0.347,"c":1},{"x":0.099,"y":0.347,"c":1},{"x":0.117,"y":0.347,"c":1},{"x":0.135,"y":0.347,"c":1},{"x":0.153,"y":0.347,"c":1},{"x":0.171,"y":0.347,"c":1},{"x":0.189,"y":0.347,"c":1},{"x":0.207,"y":0.347,"c":1},{"x":0.225,"y":0.347,"c":1},{"x":0.261,"y":0.347,"c":1},{"x":0.297,"y":0.347,"c":1},{"x":0.315,"y":0.347,"c":1},{"x":0.369,"y":0.347,"c":1},
{"x":0.063,"y":0.356,"c":1},{"x":0.081,"y":0.356,"c":1},{"x":0.099,"y":0.356,"c":1},{"x":0.117,"y":0.356,"c":1},{"x":0.135,"y":0.356,"c":1},{"x":0.153,"y":0.356,"c":1},{"x":0.171,"y":0.356,"c":1},{"x":0.189,"y":0.356,"c":1},{"x":0.207,"y":0.356,"c":1},{"x":0.261,"y":0.356,"c":1},{"x":0.297,"y":0.356,"c":1},{"x":0.315,"y":0.356,"c":1},{"x":0.333,"y":0.356,"c":1},
{"x":0.063,"y":0.366,"c":1},{"x":0.081,"y":0.366,"c":1},{"x":0.099,"y":0.366,"c":1},{"x":0.117,"y":0.366,"c":1},{"x":0.135,"y":0.366,"c":1},{"x":0.153,"y":0.366,"c":1},{"x":0.171,"y":0.366,"c":1},{"x":0.189,"y":0.366,"c":1},{"x":0.225,"y":0.366,"c":1},{"x":0.243,"y":0.366,"c":1},{"x":0.333,"y":0.366,"c":1},{"x":0.405,"y":0.366,"c":1},
{"x":0.081,"y":0.375,"c":1},{"x":0.099,"y":0.375,"c":1},{"x":0.117,"y":0.375,"c":1},{"x":0.135,"y":0.375,"c":1},{"x":0.153,"y":0.375,"c":1},{"x":0.171,"y":0.375,"c":1},{"x":0.189,"y":0.375,"c":1},{"x":0.225,"y":0.375,"c":1},{"x":0.243,"y":0.375,"c":1},{"x":0.279,"y":0.375,"c":1},{"x":0.297,"y":0.375,"c":1},{"x":0.333,"y":0.375,"c":1},
{"x":0.081,"y":0.385,"c":1},{"x":0.099,"y":0.385,"c":1},{"x":0.117,"y":0.385,"c":1},{"x":0.135,"y":0.385,"c":1},{"x":0.153,"y":0.385,"c":1},{"x":0.171,"y":0.385,"c":1},{"x":0.189,"y":0.385,"c":1},{"x":0.225,"y":0.385,"c":1},{"x":0.243,"y":0.385,"c":1},{"x":0.279,"y":0.385,"c":1},
{"x":0.081,"y":0.394,"c":1},{"x":0.099,"y":0.394,"c":1},{"x":0.117,"y":0.394,"c":1},{"x":0.135,"y":0.394,"c":1},{"x":0.153,"y":0.394,"c":1},{"x":0.171,"y":0.394,"c":1},{"x":0.189,"y":0.394,"c":1},{"x":0.243,"y":0.394,"c":1},{"x":0.279,"y":0.394,"c":1},
{"x":0.099,"y":0.404,"c":1},{"x":0.117,"y":0.404,"c":1},{"x":0.135,"y":0.404,"c":1},{"x":0.153,"y":0.404,"c":1},{"x":0.171,"y":0.404,"c":1},{"x":0.225,"y":0.404,"c":1},{"x":0.243,"y":0.404,"c":1},{"x":0.351,"y":0.404,"c":1},{"x":0.369,"y":0.404,"c":1},
{"x":0.117,"y":0.413,"c":1},{"x":0.135,"y":0.413,"c":1},{"x":0.153,"y":0.413,"c":1},{"x":0.171,"y":0.413,"c":1},{"x":0.225,"y":0.413,"c":1},{"x":0.243,"y":0.413,"c":1},{"x":0.297,"y":0.413,"c":1},{"x":0.315,"y":0.413,"c":1},
{"x":0.117,"y":0.423,"c":1},{"x":0.135,"y":0.423,"c":1},{"x":0.153,"y":0.423,"c":1},{"x":0.171,"y":0.423,"c":1},{"x":0.207,"y":0.423,"c":1},{"x":0.261,"y":0.423,"c":1},{"x":0.333,"y":0.423,"c":1},{"x":0.351,"y":0.423,"c":1},
{"x":0.135,"y":0.432,"c":1},{"x":0.153,"y":0.432,"c":1},{"x":0.171,"y":0.432,"c":1},{"x":0.225,"y":0.432,"c":1},{"x":0.243,"y":0.432,"c":1},{"x":0.297,"y":0.432,"c":1},{"x":0.333,"y":0.432,"c":1},
{"x":0.135,"y":0.442,"c":1},{"x":0.153,"y":0.442,"c":1},{"x":0.171,"y":0.442,"c":1},{"x":0.225,"y":0.442,"c":1},{"x":0.243,"y":0.442,"c":1},{"x":0.531,"y":0.442,"c":1},{"x":0.549,"y":0.451,"c":1},{"x":0.225,"y":0.461,"c":1},{"x":0.279,"y":0.47,"c":1},{"x":0.297,"y":0.48,"c":1},{"x":0.513,"y":0.48,"c":1},{"x":0.531,"y":0.48,"c":1}
]},"mark":{"type":"rect","strokeWidth":0.7},
"encoding":{"x":{"field":"x","type":"quantitative","bin":{"step":0.018},"title":"weight","scale":{"domain":[-0.064,0.85],"nice":false},"axis":{"values":[0,0.4,0.8],"labelPadding":8,"titlePadding":10,"format":"~g"}},"y":{"field":"y","type":"quantitative","bin":{"step":0.0095},"title":"height","scale":{"domain":[-0.031,0.5],"nice":false},"axis":{"values":[0,0.1,0.2,0.3,0.4,0.5],"titlePadding":15,"format":"~g"}},"color":{"field":"c","aggregate":"sum","type":"quantitative","legend":null,"scale":{"domain":[1,2,3,4,5,6,7],"range":["#b4cfec","#a0c4ea","#6fb1ea","#2f9be8","#2a78b8","#2b5578","#2d3e50"]}},"stroke":{"field":"c","aggregate":"sum","type":"quantitative","legend":null,"scale":{"domain":[1,2,3,4,5,6,7],"range":["#b4cfec","#a0c4ea","#6fb1ea","#2f9be8","#2a78b8","#2b5578","#2d3e50"]}}}}
]}
